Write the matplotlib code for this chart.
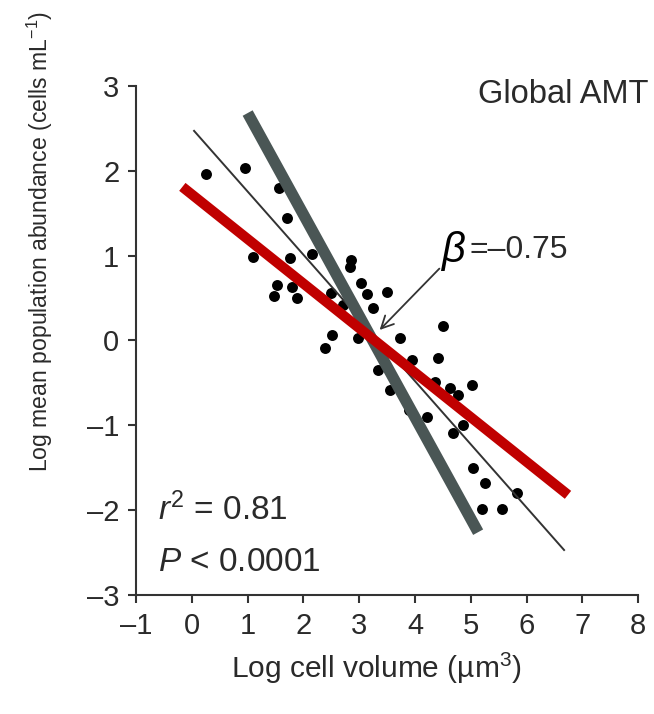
import matplotlib
matplotlib.use('Agg')
import matplotlib.pyplot as plt
import numpy as np

plt.rcParams['font.family'] = ['Liberation Sans', 'DejaVu Sans']
plt.rcParams['mathtext.fontset'] = 'custom'
plt.rcParams['mathtext.rm'] = 'Liberation Sans'
plt.rcParams['mathtext.it'] = 'Liberation Sans:italic'

# data points
log_vol = [0.26, 0.96, 1.57, 1.70, 1.09, 1.75, 2.16, 2.86, 2.83, 1.52, 1.48, 1.80, 1.89,
           2.50, 3.04, 3.13, 3.49, 3.24, 2.70, 2.52, 2.38, 2.97, 3.73, 4.50, 3.33, 3.94,
           4.41, 3.545, 4.35, 4.62, 4.77, 5.02, 4.21, 3.90, 4.86, 4.68, 5.04, 5.25, 5.83,
           5.20, 5.56]
log_abund = [1.96, 2.03, 1.80, 1.44, 0.98, 0.97, 1.02, 0.95, 0.87, 0.65, 0.52, 0.63, 0.50,
             0.56, 0.68, 0.55, 0.57, 0.38, 0.42, 0.06, -0.09, 0.03, 0.03, 0.17, -0.35, -0.23,
             -0.21, -0.58, -0.49, -0.56, -0.64, -0.52, -0.90, -0.82, -1.00, -1.09, -1.50, -1.68,
             -1.80, -1.99, -1.99]

# fitted lines (endpoints)
fit_x = [0.04, 6.67]
fit_y = [2.47, -2.47]
gray_x = [1.0, 5.13]
gray_y = [2.68, -2.26]
red_x = [-0.17, 6.74]
red_y = [1.81, -1.82]

xticks = list(range(-1, 9))
yticks = list(range(-3, 4))

fig = plt.figure(figsize=(6.54, 7.14), dpi=100)
ax = fig.add_axes([0.208, 0.1667, 0.768, 0.713])

ax.scatter(log_vol, log_abund, s=62, color='black', zorder=2, linewidths=0)
ax.plot(fit_x, fit_y, color='#333333', lw=1.4, zorder=3)
ax.plot(gray_x, gray_y, color='#4a5655', lw=8.2, solid_capstyle='butt', zorder=4)
ax.plot(red_x, red_y, color='#c00000', lw=7.3, solid_capstyle='butt', zorder=5)

ax.annotate('', xy=(3.33, 0.10), xytext=(4.47, 0.87),
            arrowprops=dict(arrowstyle='->', color='#333333', lw=1.3,
                            mutation_scale=22), zorder=6)
ax.text(4.45, 1.05, r'$\beta$', fontsize=30, family='DejaVu Serif', style='italic',
        va='center', ha='left', color='black')
ax.text(4.98, 1.07, '=\u20130.75', fontsize=23, va='center', ha='left', color='#2a2a2a')

ax.text(8.18, 2.9, 'Global AMT', fontsize=23.5, ha='right', va='center', color='#2a2a2a')
ax.text(-0.6, -2.0, r'$\it{r}^2$ = 0.81', fontsize=24, ha='left', va='center', color='#2a2a2a')
ax.text(-0.6, -2.62, r'$\it{P}$ < 0.0001', fontsize=24, ha='left', va='center', color='#2a2a2a')

ax.set_xlim(-1, 8)
ax.set_ylim(-3, 3)
ax.set_xticks(xticks)
ax.set_yticks(yticks)
ax.set_xticklabels([str(t).replace('-', '\u2013') for t in xticks])
ax.set_yticklabels([str(t).replace('-', '\u2013') for t in yticks])
for s in ['top', 'right']:
    ax.spines[s].set_visible(False)
for s in ['left', 'bottom']:
    ax.spines[s].set_color('#333333')
    ax.spines[s].set_linewidth(1.5)
ax.tick_params(direction='out', length=6, width=1.5, color='#333333',
               labelsize=21, labelcolor='#2a2a2a', pad=6)

fig.text(376 / 654, 1 - 668 / 714, r'Log cell volume (µm$^3$)', fontsize=21.5,
         ha='center', va='center', color='#2a2a2a')
fig.text(40 / 654, 1 - 242 / 714, r'Log mean population abundance (cells mL$^{-1}$)',
         fontsize=16.6, rotation=90, ha='center', va='center', color='#2a2a2a')

fig.savefig('out.png', dpi=100)
